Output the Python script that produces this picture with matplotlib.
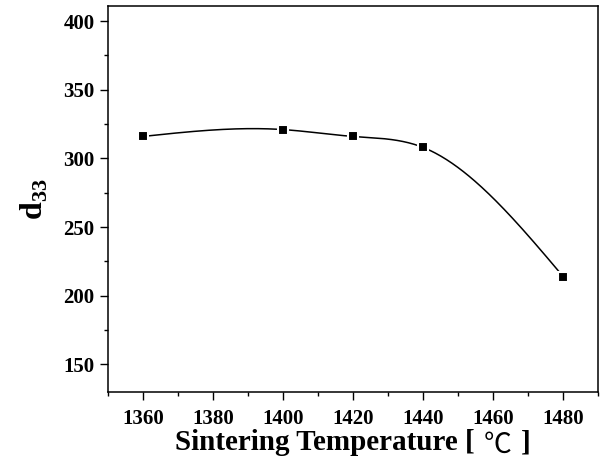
import numpy as np
import matplotlib
matplotlib.use("Agg")
from matplotlib import pyplot as plt
from matplotlib.ticker import MultipleLocator

temps = [1360, 1400, 1420, 1440, 1480]
d33 = [316, 321, 316, 308, 214]


def natural_spline(x, y, xs):
    # plain natural cubic spline, just for the smooth connecting line
    x = np.asarray(x, float)
    y = np.asarray(y, float)
    n = len(x)
    h = np.diff(x)
    A = np.zeros((n, n))
    b = np.zeros(n)
    A[0, 0] = A[-1, -1] = 1
    for i in range(1, n - 1):
        A[i, i - 1] = h[i - 1]
        A[i, i] = 2 * (h[i - 1] + h[i])
        A[i, i + 1] = h[i]
        b[i] = 3 * ((y[i + 1] - y[i]) / h[i] - (y[i] - y[i - 1]) / h[i - 1])
    c = np.linalg.solve(A, b)
    out = np.empty_like(xs)
    for k, xv in enumerate(xs):
        i = min(np.searchsorted(x, xv, side="right") - 1, n - 2)
        i = max(i, 0)
        dx = xv - x[i]
        bi = (y[i + 1] - y[i]) / h[i] - h[i] * (2 * c[i] + c[i + 1]) / 3
        di = (c[i + 1] - c[i]) / (3 * h[i])
        out[k] = y[i] + bi * dx + c[i] * dx ** 2 + di * dx ** 3
    return out


plt.rcParams['font.family'] = ['Liberation Serif', 'Noto Sans CJK SC']
plt.rcParams['font.weight'] = 'bold'
plt.rcParams['mathtext.fontset'] = 'custom'
plt.rcParams['mathtext.rm'] = 'Liberation Serif'
plt.rcParams['mathtext.bf'] = 'Liberation Serif:bold'

fig = plt.figure(figsize=(6.03, 4.61), dpi=100)
ax = fig.add_axes([0.179, 0.150, 0.813, 0.837])

xs = np.linspace(temps[0], temps[-1], 300)
ax.plot(xs, natural_spline(temps, d33, xs), color='black', linewidth=1.1)
ax.plot(temps, d33, linestyle='none', marker='s', markersize=7,
        markerfacecolor='black', markeredgecolor='white', markeredgewidth=1.5)

ax.set_xlim(1350, 1490)
ax.set_ylim(130, 411)
ax.xaxis.set_major_locator(MultipleLocator(20))
ax.xaxis.set_minor_locator(MultipleLocator(10))
ax.yaxis.set_major_locator(MultipleLocator(50))
ax.yaxis.set_minor_locator(MultipleLocator(25))
ax.tick_params(which='major', direction='out', length=6, width=1, labelsize=15)
ax.tick_params(axis='x', which='major', pad=6)
ax.tick_params(which='minor', direction='out', length=3, width=1)
for s in ax.spines.values():
    s.set_linewidth(1.1)

# x label in three pieces so the degree sign can be thin like the original
ax.set_xlabel('Sintering Temperature [', fontsize=21, fontweight='bold')
ax.xaxis.set_label_coords(0.443, -0.097)
deg = ax.annotate('℃', xy=(1, 0.5), xycoords=ax.xaxis.label, xytext=(6, -1.5),
                  textcoords='offset points', ha='left', va='center',
                  fontsize=20, fontweight='light', family='Noto Sans CJK SC')
ax.annotate(']', xy=(1, 0.5), xycoords=ax.xaxis.label, xytext=(33, 0),
            textcoords='offset points', ha='left', va='center',
            fontsize=21, fontweight='bold')
ax.set_ylabel('d$_{\\mathrm{33}}$', fontsize=23, fontweight='bold', labelpad=10)

plt.savefig('out.png', dpi=100)
